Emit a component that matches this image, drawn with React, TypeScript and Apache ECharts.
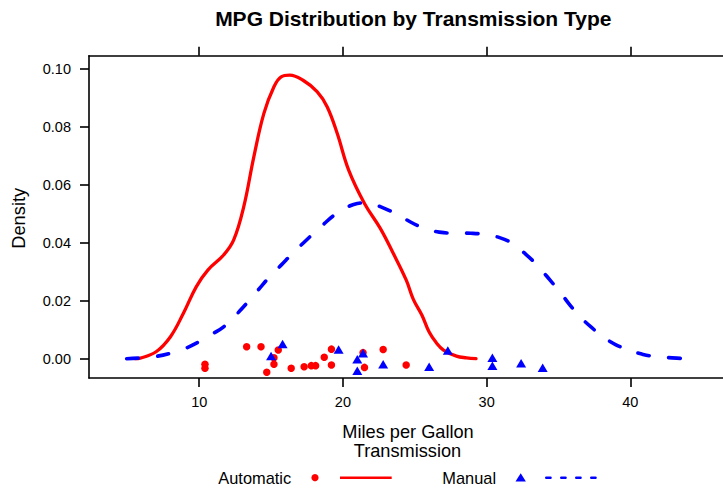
import React, { useEffect, useRef } from "react";
import * as echarts from "echarts";

// ---- Data ----
// Density curve, Automatic transmission (x = mpg, y = density)
const autoDensX = [5.54, 5.9, 7.0, 8.0, 8.9, 9.8, 10.6, 11.7, 12.4, 13.1, 13.8, 14.5, 15.2, 15.7, 16.3, 17.2, 18.2, 18.9, 19.6, 20.4, 21.5, 22.6, 23.5, 24.4, 24.9, 25.5, 26.0, 26.5, 27.0, 27.9, 28.6, 29.26];
const autoDensY = [0.0, 0.0002, 0.0024, 0.0076, 0.0157, 0.0249, 0.0306, 0.0358, 0.041, 0.0525, 0.0697, 0.0847, 0.0939, 0.0973, 0.0979, 0.0962, 0.0922, 0.087, 0.0778, 0.0651, 0.0536, 0.045, 0.0364, 0.0272, 0.0205, 0.015, 0.0092, 0.0055, 0.003, 0.0009, 0.0003, 0.0];

// Density curve, Manual transmission
const manDensX = [4.95, 6.0, 7.0, 8.0, 9.0, 10.0, 11.0, 11.7, 12.5, 13.3, 14.1, 14.9, 15.7, 16.5, 17.3, 18.0, 18.7, 19.3, 19.9, 20.5, 21.0, 21.5, 22.0, 22.6, 23.2, 24.0, 24.7, 25.4, 26.0, 26.7, 27.4, 28.2, 28.9, 29.6, 30.2, 30.9, 31.6, 32.1, 32.6, 33.2, 33.7, 34.4, 35.1, 35.8, 36.5, 37.3, 38.1, 39.0, 40.0, 40.8, 41.6, 42.9, 43.95];
const manDensY = [0.0, 0.0003, 0.0008, 0.0019, 0.0035, 0.0059, 0.0088, 0.011, 0.0148, 0.0191, 0.0237, 0.0283, 0.0323, 0.0364, 0.0402, 0.0435, 0.0466, 0.0492, 0.0511, 0.0528, 0.0536, 0.0538, 0.0535, 0.0525, 0.0512, 0.0492, 0.0472, 0.0455, 0.0444, 0.0437, 0.0434, 0.0434, 0.0433, 0.0431, 0.0427, 0.0418, 0.0404, 0.0387, 0.0366, 0.0339, 0.0313, 0.0272, 0.0231, 0.0185, 0.0145, 0.0108, 0.0076, 0.0048, 0.0028, 0.0016, 0.0008, 0.0003, 0.0];

// Raw (jittered) points
const autoMpg = [10.4, 10.4, 13.3, 14.3, 14.7, 15.2, 15.2, 15.5, 16.4, 17.3, 17.8, 18.1, 18.7, 19.2, 19.2, 21.4, 21.5, 22.8, 24.4];
const autoJit = [-0.0019, -0.0033, 0.0041, 0.0041, -0.0047, 0.0003, -0.0019, 0.003, -0.0033, -0.0028, -0.0024, -0.0024, 0.0005, 0.0033, -0.0022, 0.0021, -0.003, 0.0032, -0.0022];
const manMpg = [15.0, 15.8, 19.7, 21.0, 21.0, 21.4, 22.8, 26.0, 27.3, 30.4, 30.4, 32.4, 33.9];
const manJit = [0.0009, 0.0051, 0.0032, -0.0002, -0.0042, 0.0019, -0.0019, -0.0028, 0.0028, 0.0003, -0.0024, -0.0016, -0.0031];

const xTicks = [10, 20, 30, 40];
const yTicks = [0, 0.02, 0.04, 0.06, 0.08, 0.1];

const titleText = "MPG Distribution by Transmission Type";
const xLabel = "Miles per Gallon";
const groupLabel = "Transmission";
const yLabel = "Density";
const groupNames = ["Automatic", "Manual"];

const RED = "#ff0000";
const BLUE = "#0000ff";
const FONT = "'Liberation Sans', Arial, Helvetica, sans-serif";

const zip = (a: number[], b: number[]) => a.map((v, i) => [v, b[i]]);

export default function App() {
  const ref = useRef<HTMLDivElement>(null);
  useEffect(() => {
    if (!ref.current) return;
    const chart = echarts.init(ref.current, null, { renderer: "svg" });
    const axisLineStyle = { color: "#000", width: 1.6 };
    const xCommon = {
      type: "value" as const,
      min: 2.33,
      max: 48,
      splitLine: { show: false },
      axisLine: { show: true, onZero: false, lineStyle: axisLineStyle },
      axisTick: { show: true, inside: false, length: 9, lineStyle: axisLineStyle, customValues: xTicks },
    };
    chart.setOption({
      animation: false,
      grid: { left: 89, top: 55.7, width: 656.3, height: 322.3, containLabel: false },
      xAxis: [
        {
          ...xCommon,
          position: "bottom",
          axisLabel: {
            show: true,
            customValues: xTicks,
            color: "#000",
            fontFamily: FONT,
            fontSize: 14.5,
            margin: 24,
            verticalAlign: "middle",
          },
        },
        {
          ...xCommon,
          position: "top",
          axisLabel: { show: false },
        },
      ],
      yAxis: {
        type: "value",
        min: -0.00666,
        max: 0.1046,
        position: "left",
        splitLine: { show: false },
        axisLine: { show: true, onZero: false, lineStyle: axisLineStyle },
        axisTick: { show: true, inside: false, length: 9, lineStyle: axisLineStyle, customValues: yTicks },
        axisLabel: {
          show: true,
          customValues: yTicks,
          formatter: (v: number) => v.toFixed(2),
          color: "#000",
          fontFamily: FONT,
          fontSize: 14.5,
          margin: 18,
        },
      },
      series: [
        {
          type: "line",
          name: groupNames[0],
          data: zip(autoDensX, autoDensY),
          showSymbol: false,
          smooth: 0.4,
          lineStyle: { color: RED, width: 3.3, cap: "round", join: "round" },
          z: 2,
        },
        {
          type: "scatter",
          name: groupNames[0],
          data: zip(autoMpg, autoJit),
          symbol: "circle",
          symbolSize: 7.5,
          itemStyle: { color: RED, opacity: 1 },
          z: 3,
        },
        {
          type: "line",
          name: groupNames[1],
          data: zip(manDensX, manDensY),
          showSymbol: false,
          smooth: 0.4,
          lineStyle: { color: BLUE, width: 3.6, type: [11.5, 19.5], cap: "round", join: "round" },
          z: 4,
        },
        {
          type: "scatter",
          name: groupNames[1],
          data: zip(manMpg, manJit),
          symbol: "triangle",
          symbolSize: [10, 8.5],
          itemStyle: { color: BLUE, opacity: 1 },
          z: 5,
        },
      ],
      graphic: [
        {
          type: "text",
          x: 413.3,
          y: 18.3,
          style: { text: titleText, font: `bold 21px ${FONT}`, fill: "#000", align: "center", verticalAlign: "middle" },
        },
        {
          type: "text",
          x: 408,
          y: 431.8,
          style: { text: xLabel, font: `18.2px ${FONT}`, fill: "#000", align: "center", verticalAlign: "middle" },
        },
        {
          type: "text",
          x: 407.5,
          y: 450.9,
          style: { text: groupLabel, font: `18.2px ${FONT}`, fill: "#000", align: "center", verticalAlign: "middle" },
        },
        {
          type: "text",
          x: 18.3,
          y: 218.3,
          rotation: Math.PI / 2,
          style: { text: yLabel, font: `18.3px ${FONT}`, fill: "#000", align: "center", verticalAlign: "middle" },
        },
        // legend
        {
          type: "text",
          x: 218.3,
          y: 478,
          style: { text: groupNames[0], font: `16.4px ${FONT}`, fill: "#000", align: "left", verticalAlign: "middle" },
        },
        { type: "circle", shape: { cx: 315, cy: 477.7, r: 3.6 }, style: { fill: RED } },
        {
          type: "line",
          shape: { x1: 340, y1: 477.7, x2: 391.7, y2: 477.7 },
          style: { stroke: RED, lineWidth: 2.6 },
        },
        {
          type: "text",
          x: 442.3,
          y: 478,
          style: { text: groupNames[1], font: `16.4px ${FONT}`, fill: "#000", align: "left", verticalAlign: "middle" },
        },
        {
          type: "polygon",
          shape: { points: [[515.5, 481.4], [525.9, 481.4], [520.7, 473.3]] },
          style: { fill: BLUE },
        },
        {
          type: "line",
          shape: { x1: 546.3, y1: 477.7, x2: 596, y2: 477.7 },
          style: { stroke: BLUE, lineWidth: 2.6, lineDash: [4.2, 10.8], lineCap: "round" },
        },
      ],
    });
    return () => chart.dispose();
  }, []);
  return (
    <div style={{ position: "fixed", left: 0, top: 0, width: 723, height: 488, overflow: "hidden", background: "#fff" }}>
      <div ref={ref} style={{ position: "absolute", left: 0, top: 0, width: 780, height: 488 }} />
    </div>
  );
}
